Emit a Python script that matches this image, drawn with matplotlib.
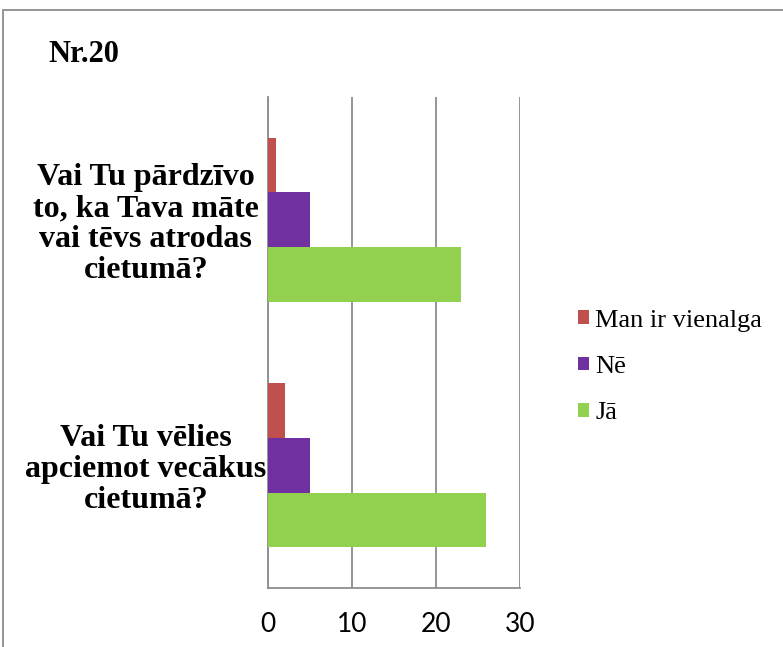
import matplotlib
matplotlib.use("Agg")
import matplotlib.pyplot as plt
import numpy as np
from matplotlib.patches import Rectangle

categories = ["Vai Tu vēlies\napciemot vecākus\ncietumā?",
              "Vai Tu pārdzīvo\nto, ka Tava māte\nvai tēvs atrodas\ncietumā?"]
series_names = ["Man ir vienalga", "Nē", "Jā"]
values_vienalga = [2, 1]
values_ne = [5, 5]
values_ja = [26, 23]
colors = ["#C0504D", "#7030A0", "#92D050"]
xticks = [0, 10, 20, 30]

fig = plt.figure(figsize=(7.83, 6.47), dpi=100)
ax = fig.add_axes([268/783, 1-588/647, (520-268)/783, (588-97)/647])

y = np.arange(len(categories))
h = 0.222
series = [values_vienalga, values_ne, values_ja]
offsets = [h, 0, -h]
bars = []
for vals, off, c, name in zip(series, offsets, colors, series_names):
    b = ax.barh(y + off, vals, height=h, color=c, label=name, zorder=3)
    bars.append(b)

ax.set_xlim(0, 30)
ax.set_ylim(-0.5, 1.5)
ax.set_xticks(xticks)
ax.set_xticklabels([str(t) for t in xticks], fontsize=19, family="Lato")
ax.set_yticks(y)
ax.set_yticklabels(categories, fontsize=23, family="Liberation Serif",
                   fontweight="bold", ha="center", linespacing=1.08)
ax.tick_params(axis="y", length=0, pad=88)
ax.tick_params(axis="x", length=0, pad=17)
ax.grid(axis="x", color="#8C8C8C", linewidth=1.3, zorder=0)
for s in ["top", "right"]:
    ax.spines[s].set_visible(False)
for s in ["left", "bottom"]:
    ax.spines[s].set_color("#8C8C8C")
    ax.spines[s].set_linewidth(1.3)

fig.text(48/783, 1-55/647, "Nr.20", fontsize=22, fontweight="bold",
         family="Liberation Serif", va="center", ha="left")

leg = fig.legend(handles=bars, labels=series_names, loc="upper left",
                 bbox_to_anchor=(567/783, 1-299/647), frameon=False,
                 prop={"family": "Liberation Serif", "size": 19},
                 handlelength=0.42, handleheight=0.42, handletextpad=0.25,
                 labelspacing=0.92, borderaxespad=0)

fig.patches.append(Rectangle((3/783, -0.1), 1.2, 1-10/647+0.1,
                             transform=fig.transFigure, fill=False,
                             edgecolor="#8C8C8C", linewidth=1.3))

fig.savefig("out.png", dpi=100)
